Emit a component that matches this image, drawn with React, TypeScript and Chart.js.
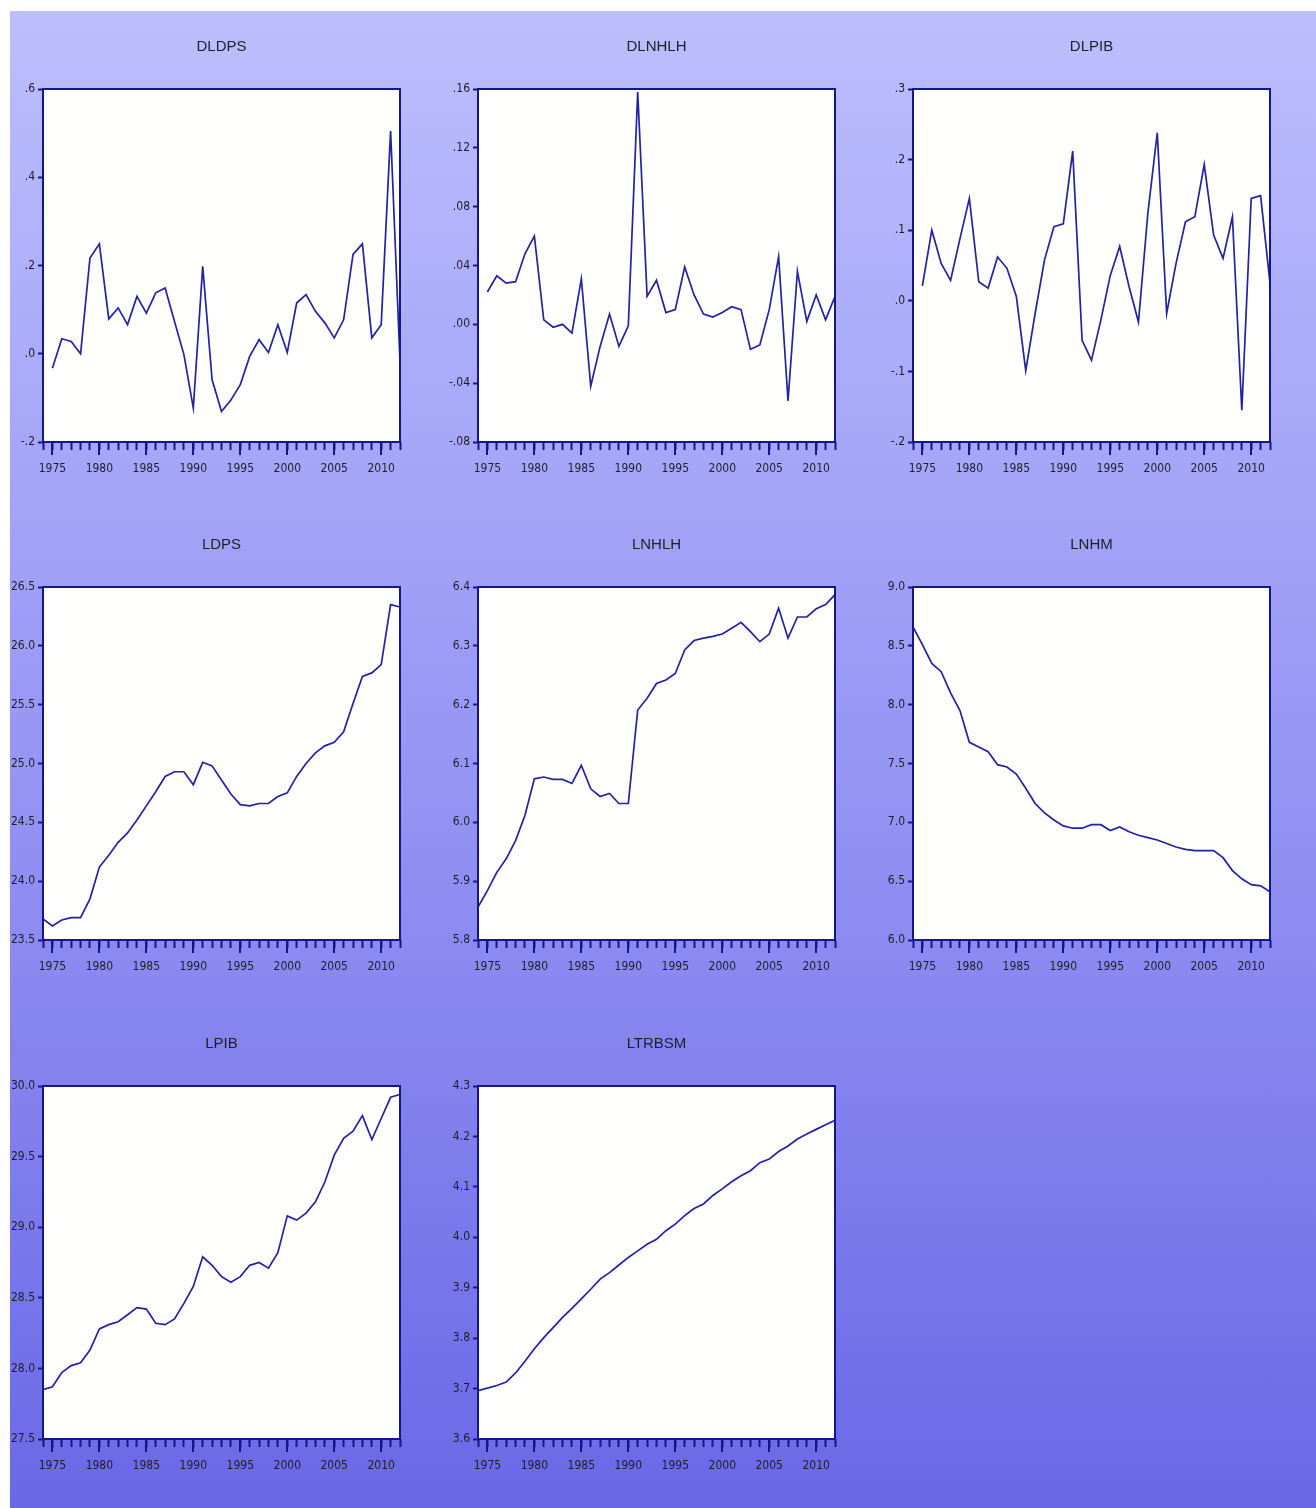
import React, { useEffect, useRef } from "react";
import { Chart, registerables } from "chart.js";

Chart.register(...registerables);

// ---------- DATA ----------
const years = [
  1974, 1975, 1976, 1977, 1978, 1979, 1980, 1981, 1982, 1983,
  1984, 1985, 1986, 1987, 1988, 1989, 1990, 1991, 1992, 1993,
  1994, 1995, 1996, 1997, 1998, 1999, 2000, 2001, 2002, 2003,
  2004, 2005, 2006, 2007, 2008, 2009, 2010, 2011, 2012,
];
const diffYears = years.slice(1);

const dldps = [
  -0.033, 0.034, 0.028, 0.0, 0.217, 0.249, 0.079, 0.104, 0.066, 0.13,
  0.092, 0.138, 0.149, 0.073, -0.002, -0.123, 0.198, -0.059, -0.131, -0.105,
  -0.07, -0.006, 0.032, 0.003, 0.066, 0.003, 0.115, 0.134, 0.096, 0.07,
  0.036, 0.077, 0.225, 0.249, 0.036, 0.066, 0.505, -0.017,
];
const dlnhlh = [
  0.022, 0.033, 0.028, 0.029, 0.048, 0.06, 0.003, -0.002, 0.0, -0.006,
  0.031, -0.042, -0.015, 0.007, -0.015, -0.001, 0.158, 0.019, 0.03, 0.008,
  0.01, 0.039, 0.02, 0.007, 0.005, 0.008, 0.012, 0.01, -0.017, -0.014,
  0.01, 0.046, -0.052, 0.036, 0.002, 0.02, 0.003, 0.019,
];
const dlpib = [
  0.021, 0.1, 0.053, 0.029, 0.088, 0.145, 0.027, 0.018, 0.062, 0.046,
  0.006, -0.099, -0.018, 0.058, 0.105, 0.109, 0.212, -0.056, -0.084, -0.027,
  0.036, 0.077, 0.02, -0.03, 0.124, 0.238, -0.018, 0.053, 0.112, 0.119,
  0.193, 0.093, 0.06, 0.119, -0.155, 0.145, 0.149, 0.025,
];
const ldps = [
  23.68, 23.62, 23.67, 23.69, 23.69, 23.85, 24.12, 24.22, 24.33, 24.41,
  24.52, 24.64, 24.76, 24.89, 24.93, 24.93, 24.82, 25.01, 24.98, 24.86,
  24.74, 24.65, 24.64, 24.66, 24.66, 24.72, 24.75, 24.89, 25.0, 25.09,
  25.15, 25.18, 25.27, 25.51, 25.74, 25.77, 25.84, 26.35, 26.33,
];
const lnhlh = [
  5.856, 5.884, 5.915, 5.938, 5.969, 6.012, 6.074, 6.077, 6.073, 6.073,
  6.066, 6.097, 6.057, 6.044, 6.049, 6.032, 6.032, 6.191, 6.211, 6.236,
  6.242, 6.253, 6.293, 6.309, 6.313, 6.316, 6.32, 6.33, 6.34, 6.324,
  6.307, 6.32, 6.364, 6.313, 6.349, 6.349, 6.363, 6.37, 6.387,
];
const lnhm = [
  8.66, 8.51, 8.35, 8.28, 8.1, 7.95, 7.68, 7.64, 7.6, 7.49,
  7.47, 7.41, 7.29, 7.16, 7.08, 7.02, 6.97, 6.95, 6.95, 6.98,
  6.98, 6.93, 6.96, 6.92, 6.89, 6.87, 6.85, 6.82, 6.79, 6.77,
  6.76, 6.76, 6.76, 6.7, 6.59, 6.52, 6.47, 6.46, 6.41,
];
const lpib = [
  27.85, 27.87, 27.97, 28.02, 28.04, 28.13, 28.28, 28.31, 28.33, 28.38,
  28.43, 28.42, 28.32, 28.31, 28.35, 28.46, 28.58, 28.79, 28.73, 28.65,
  28.61, 28.65, 28.73, 28.75, 28.71, 28.82, 29.08, 29.05, 29.1, 29.18,
  29.32, 29.51, 29.63, 29.68, 29.79, 29.62, 29.77, 29.92, 29.94,
];
const ltrbsm = [
  3.696, 3.701, 3.706, 3.713, 3.731, 3.754, 3.779, 3.801, 3.821, 3.841,
  3.859, 3.878, 3.897, 3.917, 3.93, 3.945, 3.96, 3.973, 3.986, 3.996,
  4.013, 4.026, 4.043, 4.057, 4.066, 4.083, 4.096, 4.11, 4.122, 4.132,
  4.148, 4.155, 4.17, 4.181, 4.195, 4.205, 4.214, 4.223, 4.232,
];

// y tick values
const dldpsTicks = [-0.2, 0.0, 0.2, 0.4, 0.6];
const dlnhlhTicks = [-0.08, -0.04, 0.0, 0.04, 0.08, 0.12, 0.16];
const dlpibTicks = [-0.2, -0.1, 0.0, 0.1, 0.2, 0.3];
const ldpsTicks = [23.5, 24.0, 24.5, 25.0, 25.5, 26.0, 26.5];
const lnhlhTicks = [5.8, 5.9, 6.0, 6.1, 6.2, 6.3, 6.4];
const lnhmTicks = [6.0, 6.5, 7.0, 7.5, 8.0, 8.5, 9.0];
const lpibTicks = [27.5, 28.0, 28.5, 29.0, 29.5, 30.0];
const ltrbsmTicks = [3.6, 3.7, 3.8, 3.9, 4.0, 4.1, 4.2, 4.3];

const titles = ["DLDPS", "DLNHLH", "DLPIB", "LDPS", "LNHLH", "LNHM", "LPIB", "LTRBSM"];

// ---------- STYLE / LAYOUT ----------
const FRAME = "#16168c";
const LINE = "#2222a4";
const TEXT = "#1e1e2e";
const TICK_FONT = "'Liberation Sans Narrow', 'DejaVu Sans Condensed', 'Liberation Sans', Arial, sans-serif";
const TITLE_FONT = "'Liberation Sans', Arial, sans-serif";

const AREA_W = 357;
const AREA_H = 353;
const AXIS_W = 43;
const TITLE_H = 75;
const XAXIS_H = 50;
const PAD_R = 12;

type Spec = {
  title: string;
  xs: number[];
  values: number[];
  ticks: number[];
  decimals: number;
  left: number;
  top: number;
};

const panels: Spec[] = [
  { title: titles[0], xs: diffYears, values: dldps, ticks: dldpsTicks, decimals: 1, left: 43, top: 89 },
  { title: titles[1], xs: diffYears, values: dlnhlh, ticks: dlnhlhTicks, decimals: 2, left: 478, top: 89 },
  { title: titles[2], xs: diffYears, values: dlpib, ticks: dlpibTicks, decimals: 1, left: 913, top: 89 },
  { title: titles[3], xs: years, values: ldps, ticks: ldpsTicks, decimals: 1, left: 43, top: 587 },
  { title: titles[4], xs: years, values: lnhlh, ticks: lnhlhTicks, decimals: 1, left: 478, top: 587 },
  { title: titles[5], xs: years, values: lnhm, ticks: lnhmTicks, decimals: 1, left: 913, top: 587 },
  { title: titles[6], xs: years, values: lpib, ticks: lpibTicks, decimals: 1, left: 43, top: 1086 },
  { title: titles[7], xs: years, values: ltrbsm, ticks: ltrbsmTicks, decimals: 1, left: 478, top: 1086 },
];

function fmt(v: number, d: number): string {
  if (Math.abs(v) < 1e-9) v = 0;
  const s = v.toFixed(d);
  return s.replace(/^(-?)0\./, "$1.");
}

const framePlugin = {
  id: "frame",
  beforeDraw(chart: any) {
    const a = chart.chartArea;
    const ctx = chart.ctx;
    ctx.save();
    ctx.fillStyle = "#fffffd";
    ctx.fillRect(a.left, a.top, a.right - a.left, a.bottom - a.top);
    ctx.restore();
  },
  afterDraw(chart: any) {
    const a = chart.chartArea;
    const ctx = chart.ctx;
    const xs = chart.scales.x;
    ctx.save();
    ctx.strokeStyle = FRAME;
    ctx.lineWidth = 2;
    ctx.strokeRect(a.left, a.top, a.right - a.left, a.bottom - a.top);
    // longer major ticks every five years
    ctx.beginPath();
    for (const y of years) {
      if (y % 5 === 0) {
        const px = Math.round(xs.getPixelForValue(y));
        ctx.moveTo(px, a.bottom);
        ctx.lineTo(px, a.bottom + 13);
      }
    }
    ctx.stroke();
    ctx.restore();
  },
};

function Panel({ spec }: { spec: Spec }) {
  const ref = useRef<HTMLCanvasElement>(null);
  useEffect(() => {
    if (!ref.current) return;
    const data = spec.values.map((v, i) => ({ x: spec.xs[i], y: v }));
    const chart = new Chart(ref.current, {
      type: "line",
      data: {
        datasets: [
          {
            data,
            borderColor: LINE,
            borderWidth: 1.7,
            pointRadius: 0,
            tension: 0,
            fill: false,
          },
        ],
      },
      options: {
        animation: false,
        responsive: false,
        events: [],
        layout: { padding: { left: 0, right: PAD_R, top: 0, bottom: 0 } },
        plugins: {
          legend: { display: false },
          tooltip: { enabled: false },
          title: {
            display: true,
            text: spec.title,
            fullSize: false,
            color: TEXT,
            font: { family: TITLE_FONT, size: 15, weight: "normal" },
            padding: { top: 24, bottom: 33 },
          },
        },
        scales: {
          x: {
            type: "linear",
            min: years[0],
            max: years[years.length - 1],
            afterBuildTicks: (s: any) => {
              s.ticks = years.map((y) => ({ value: y }));
            },
            afterFit: (s: any) => {
              s.height = XAXIS_H;
            },
            ticks: {
              autoSkip: false,
              maxRotation: 0,
              minRotation: 0,
              color: TEXT,
              font: { family: TICK_FONT, size: 12 },
              padding: 12,
              callback: (v: any) => (Number(v) % 5 === 0 ? String(v) : ""),
            },
            grid: { drawOnChartArea: false, tickLength: 8, tickColor: FRAME, tickWidth: 2 },
            border: { display: false },
          },
          y: {
            type: "linear",
            min: spec.ticks[0],
            max: spec.ticks[spec.ticks.length - 1],
            afterBuildTicks: (s: any) => {
              s.ticks = spec.ticks.map((t) => ({ value: t }));
            },
            afterFit: (s: any) => {
              s.width = AXIS_W;
            },
            ticks: {
              color: TEXT,
              font: { family: TICK_FONT, size: 12 },
              padding: 3,
              callback: (v: any) => fmt(Number(v), spec.decimals),
            },
            grid: { drawOnChartArea: false, tickLength: 5, tickColor: FRAME, tickWidth: 2 },
            border: { display: false },
          },
        },
      },
      plugins: [framePlugin],
    } as any);
    return () => chart.destroy();
  }, [spec]);

  const w = AXIS_W + AREA_W + PAD_R;
  const h = TITLE_H + AREA_H + XAXIS_H;
  return (
    <canvas
      ref={ref}
      width={w}
      height={h}
      style={{
        position: "absolute",
        left: spec.left - AXIS_W,
        top: spec.top - TITLE_H,
        width: w,
        height: h,
      }}
    />
  );
}

export default function App() {
  return (
    <div
      style={{
        position: "absolute",
        left: 0,
        top: 0,
        width: 1316,
        height: 1508,
        background: "#ffffff",
        overflow: "hidden",
      }}
    >
      <div
        style={{
          position: "absolute",
          left: 10,
          top: 11,
          right: 0,
          bottom: 0,
          background: "linear-gradient(to bottom, #bcbefd 0%, #9696f4 50%, #6a68e6 100%)",
        }}
      />
      {panels.map((p) => (
        <Panel key={p.title} spec={p} />
      ))}
    </div>
  );
}
